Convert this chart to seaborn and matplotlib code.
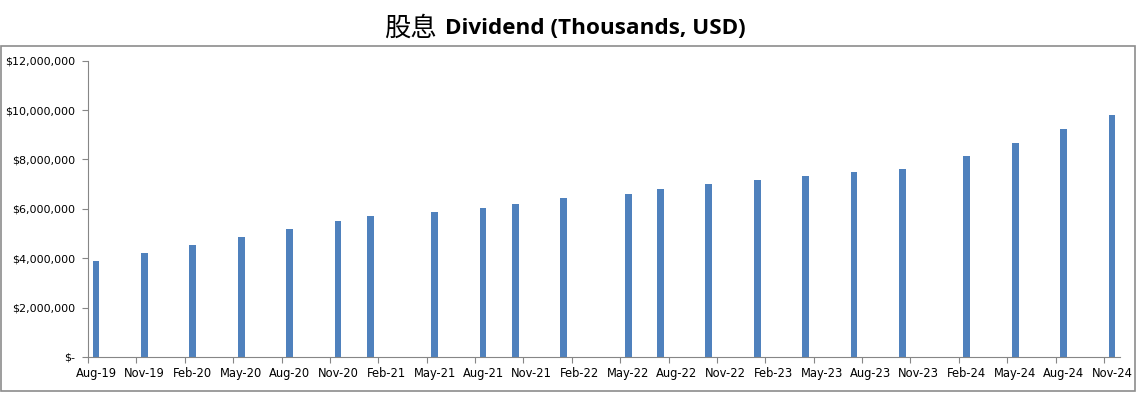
import numpy as np
import pandas as pd
import seaborn as sns
import matplotlib.pyplot as plt
from matplotlib.patches import Rectangle
from matplotlib.ticker import FuncFormatter, FixedLocator

# Dividend paid per month (USD thousands shown as full dollars in the source chart)
months = ["2019-08", "2019-11", "2020-02", "2020-05", "2020-08", "2020-11",
          "2021-01", "2021-05", "2021-08", "2021-10", "2022-01", "2022-05",
          "2022-07", "2022-10", "2023-01", "2023-04", "2023-07", "2023-10",
          "2024-02", "2024-05", "2024-08", "2024-11"]
dividends = [3880000, 4215000, 4530000, 4850000, 5175000, 5500000,
             5705000, 5880000, 6040000, 6205000, 6445000, 6610000,
             6810000, 7015000, 7175000, 7340000, 7500000, 7620000,
             8150000, 8675000, 9245000, 9810000]

axis_start = pd.Period("2019-08", freq="M")
axis_end = pd.Period("2024-12", freq="M")

# month index on a monthly date axis, bars sit in the middle of their month
pos = [(pd.Period(m, freq="M") - axis_start).n + 0.5 for m in months]
df = pd.DataFrame({"pos": pos, "dividend": dividends})

sns.set_style("white")
plt.rcParams["font.family"] = ["DejaVu Sans", "Noto Sans CJK SC"]
plt.rcParams["text.color"] = "black"
plt.rcParams["xtick.color"] = "black"
plt.rcParams["ytick.color"] = "black"

fig = plt.figure(figsize=(11.39, 4.01), dpi=100)
ax = fig.add_axes([88 / 1139, 1 - 357 / 401, (1120 - 88) / 1139, (357 - 60.7) / 401])

sns.barplot(data=df, x="pos", y="dividend", native_scale=True,
            color="#4F81BD", saturation=1, linewidth=0, ax=ax)
# bars are ~0.42 month wide, centred on the month
bar_w = 0.42
for patch, p in zip(ax.patches, df["pos"]):
    patch.set_width(bar_w)
    patch.set_x(p - bar_w / 2)
    patch.set_linewidth(0)

n_months = (axis_end - axis_start).n
ax.set_xlim(0, n_months)
ax.set_ylim(0, 12000000)

tick_periods = pd.period_range("2019-08", "2024-11", freq="M")[::3]
tick_pos = [(p - axis_start).n for p in tick_periods]
ax.xaxis.set_major_locator(FixedLocator(tick_pos))
ax.xaxis.set_major_formatter(FuncFormatter(lambda v, _: ""))
ax.xaxis.set_minor_locator(FixedLocator([t + 0.5 for t in tick_pos]))
ax.set_xticklabels([p.strftime("%b-%y") for p in tick_periods], minor=True)
ax.tick_params(axis="x", which="minor", length=0, pad=7, labelsize=8.3)
ax.tick_params(axis="x", which="major", length=4, width=0.8, color="#868686",
               direction="out", bottom=True)

ax.set_yticks(np.arange(0, 12000001, 2000000))
ax.yaxis.set_major_formatter(FuncFormatter(lambda v, _: "$-" if v == 0 else f"${v:,.0f}"))
ax.tick_params(axis="y", length=4, width=0.8, color="#868686", direction="out",
               left=True, labelsize=8, pad=5)

ax.set_xlabel("")
ax.set_ylabel("")
sns.despine(ax=ax)
for side in ["left", "bottom"]:
    ax.spines[side].set_color("#868686")
    ax.spines[side].set_linewidth(0.8)

# outer chart border
fig.add_artist(Rectangle((0.5 / 1139, 1 - 391 / 401), 1134 / 1139, (391 - 46) / 401,
                         transform=fig.transFigure, fill=False,
                         edgecolor="#8C8C8C", linewidth=1.2))

# title: Chinese in regular weight, English in bold
fig.text(437 / 1139, 1 - 28 / 401, "股息", family=["Noto Sans CJK SC", "DejaVu Sans"],
         fontsize=19, ha="right", va="center")
fig.text(445 / 1139, 1 - 28 / 401, "Dividend (Thousands, USD)", family="Open Sans",
         fontweight="bold", fontsize=16.2, ha="left", va="center")

fig.savefig("out.png", dpi=100)
